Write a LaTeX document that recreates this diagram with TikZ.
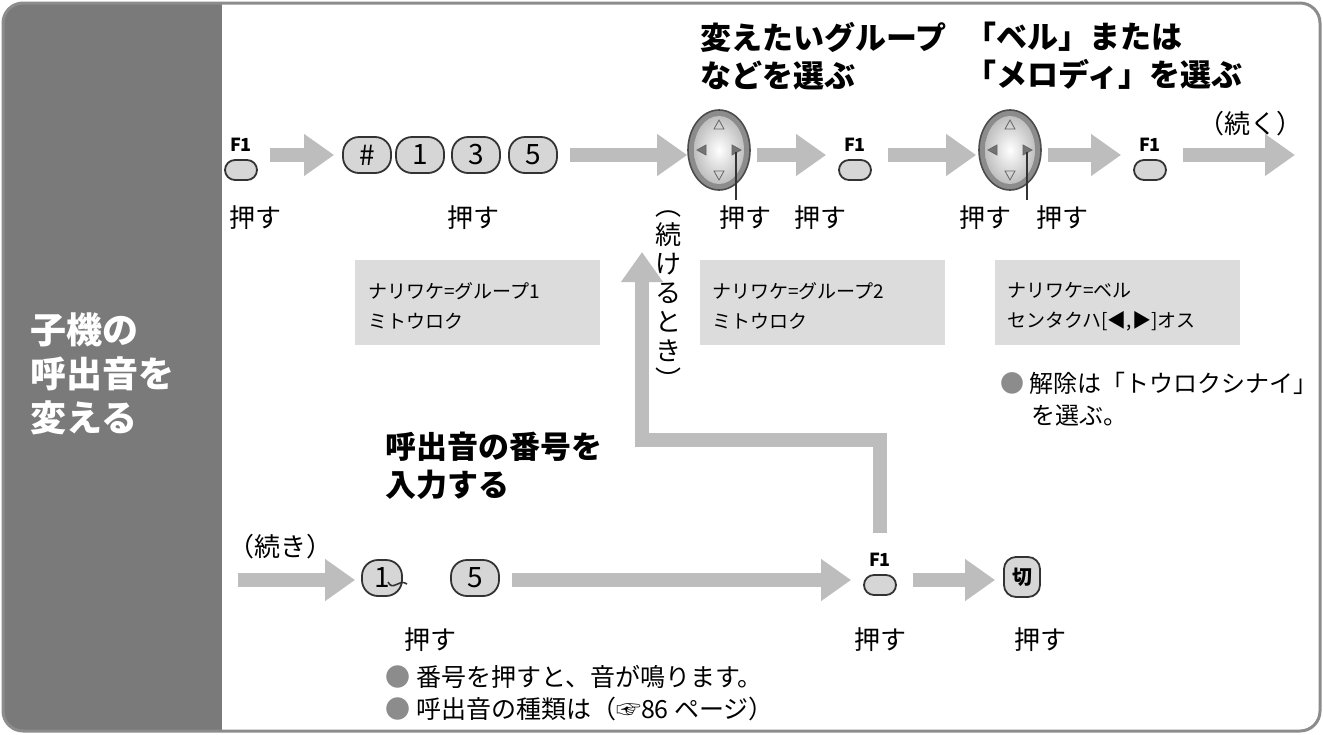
\documentclass[tikz,border=0pt]{standalone}
\usepackage{fontspec}
\setmainfont{Noto Sans CJK JP}
\setsansfont{Noto Sans CJK JP}
\usetikzlibrary{arrows.meta,shapes.geometric}
\definecolor{garr}{HTML}{BDBDBD}
\definecolor{panel}{HTML}{7A7A7A}
\definecolor{boxg}{HTML}{DCDCDC}
\definecolor{keyg}{HTML}{D6D6D6}
\begin{document}
\begin{tikzpicture}[x=0.5pt,y=-0.5pt,
  ga/.style={draw=garr,line width=7pt,-{Triangle[length=15pt,width=20pt]}},
  key/.style={draw=black!80,fill=keyg,line width=0.9pt,rounded corners=8pt,minimum width=24pt,minimum height=18pt,inner sep=0pt,font=\fontsize{14pt}{14pt}\selectfont},
  fkey/.style={draw=black!80,fill=keyg,line width=0.9pt,rounded corners=5pt,minimum width=16pt,minimum height=10pt,inner sep=0pt},
  flab/.style={font=\fontsize{9pt}{9pt}\selectfont\bfseries,inner sep=0pt},
  lab/.style={font=\fontsize{13pt}{13pt}\selectfont,inner sep=0pt},
  hd/.style={font=\fontsize{15.5pt}{19pt}\selectfont\bfseries,align=left,inner sep=0pt,anchor=north west},
  lcd/.style={font=\fontsize{9.5pt}{15pt}\selectfont,align=left,inner sep=0pt,anchor=north west},
  note/.style={font=\fontsize{12.5pt}{16pt}\selectfont,align=left,inner sep=0pt,anchor=north west}]
\useasboundingbox (0,0) rectangle (1323,734);
% frame
\begin{scope}
\clip[rounded corners=10pt] (3,3) rectangle (1320,731);
\fill[white] (3,3) rectangle (1320,731);
\fill[panel] (3,3) rectangle (222,731);
\end{scope}
\draw[black!45,line width=1.5pt,rounded corners=10pt] (3,3) rectangle (1320,731);
\node[anchor=north west,text=white,font=\fontsize{18pt}{22pt}\selectfont\bfseries,align=left,inner sep=0pt] (title) at (30,312) {子機の\\呼出音を\\変える};

% headings
\node[hd] (h1) at (700,22) {変えたいグループ\\などを選ぶ};
\node[hd] (h2) at (965,22) {「ベル」または\\「メロディ」を選ぶ};
\node[hd] (h3) at (385,432) {呼出音の番号を\\入力する};

\coordinate (row) at (0,155);
\coordinate (rowb) at (0,580);

% top row keys
\node[fkey] (f1a) at (241,170) {}; \node[flab] (f1al) at (241,145) {F1};
\node[key] (kh) at (367,155) {\#};
\node[key] (k1) at (420,155) {1};
\node[key] (k3) at (476,155) {3};
\node[key] (k5) at (533,155) {5};
\foreach \n/\x in {dp1/719,dp2/1010}{
  \node[ellipse,draw=black!70,fill=black!45,line width=0.8pt,minimum width=31pt,minimum height=40pt,inner sep=0pt] (\n) at (\x,150) {};
  \node[ellipse,shading=radial,inner color=white,outer color=black!25,minimum width=25pt,minimum height=34pt,inner sep=0pt] (\n i) at (\x,150) {};
  \draw[black!60,fill=black!55] (\x-22,150) -- (\x-13,145) -- (\x-13,155) -- cycle;
  \draw[black!60,fill=black!55] (\x+22,150) -- (\x+13,145) -- (\x+13,155) -- cycle;
  \draw[black!60] (\x,120) -- (\x-5,129) -- (\x+5,129) -- cycle;
  \draw[black!60] (\x,180) -- (\x-5,171) -- (\x+5,171) -- cycle;
  \draw[black!80,line width=0.6pt] (\x+17,152) -- (\x+17,200);
}
\node[fkey] (f1b) at (855,170) {}; \node[flab] (f1bl) at (855,145) {F1};
\node[fkey] (f1c) at (1150,170) {}; \node[flab] (f1cl) at (1150,145) {F1};
\node[font=\fontsize{13pt}{13pt}\selectfont,inner sep=0pt] (cont1) at (1250,124) {（続く）};
\coordinate (endtop) at (1295,155);

\draw[ga] ([xshift=6pt]f1a.east |- row) -- ([xshift=-4pt]kh.west |- row);
\draw[ga] ([xshift=6pt]k5.east |- row) -- (dp1.west |- row);
\draw[ga] ([xshift=3pt]dp1.east |- row) -- ([xshift=-6pt]f1b.west |- row);
\draw[ga] ([xshift=8pt]f1b.east |- row) -- ([xshift=-1pt]dp2.west |- row);
\draw[ga] ([xshift=3pt]dp2.east |- row) -- ([xshift=-6pt]f1c.west |- row);
\draw[ga] ([xshift=8pt]f1c.east |- row) -- (endtop);

% top labels
\node[lab] (p1) at (255,218) {押す};
\node[lab] (p2) at (473,218) {押す};
\node[lab] (p3) at (745,218) {押す};
\node[lab] (p4) at (820,218) {押す};
\node[lab] (p5) at (985,218) {押す};
\node[lab] (p6) at (1062,218) {押す};

% lcd boxes
\fill[boxg] (355,260) rectangle (600,345);
\node[lcd] (l1) at (368,282) {ナリワケ=グループ1\\ミトウロク};
\fill[boxg] (700,260) rectangle (945,345);
\node[lcd] (l2) at (712,282) {ナリワケ=グループ2\\ミトウロク};
\fill[boxg] (995,260) rectangle (1240,345);
\node[lcd] (l3) at (1007,282) {ナリワケ=ベル\\センタクハ[◀,▶]オス};
\node[note,font=\fontsize{12pt}{16pt}\selectfont] (n1) at (1000,372) {{\color{black!45}●} 解除は「トウロクシナイ」\\\hspace{1.3em}を選ぶ。};

% vertical text
\node[font=\fontsize{13pt}{14.5pt}\selectfont,align=center,inner sep=0pt] (vt) at (668,300) {︵\\続\\け\\る\\と\\き\\︶};

% bottom row
\node[font=\fontsize{13pt}{13pt}\selectfont,inner sep=0pt] (cont2) at (280,547) {（続き）};
\coordinate (startb) at (238,580);
\node[key,minimum width=20pt,rounded corners=8pt] (b1) at (382,578) {1\hspace{4pt}};
\draw[black!80,line width=0.8pt] (388,582) .. controls (393,592) and (399,578) .. (407,584);
\node[key] (b5) at (475,578) {5};
\node[fkey] (f1d) at (880,585) {}; \node[flab] (f1dl) at (880,560) {F1};
\node[key,minimum width=18pt,minimum height=20pt,rounded corners=6pt,font=\fontsize{10pt}{10pt}\selectfont\bfseries] (kk) at (1022,577) {切};
\draw[ga] (startb) -- ([xshift=-3pt]b1.west |- rowb);
\draw[ga] ([xshift=6pt]b5.east |- rowb) -- ([xshift=-6pt]f1d.west |- rowb);
\draw[ga] ([xshift=8pt]f1d.east |- rowb) -- ([xshift=-4pt]kk.west |- rowb);
% return arrow
\draw[ga] ([yshift=10pt]f1dl.north) |- (642,440) -- (642,252);

\node[lab] (p7) at (430,640) {押す};
\node[lab] (p8) at (880,640) {押す};
\node[lab] (p9) at (1040,640) {押す};
\node[note] (n2) at (385,665) {{\color{black!45}●} 番号を押すと、音が鳴ります。\\{\color{black!45}●} 呼出音の種類は（☞86 ページ）};
\end{tikzpicture}
\end{document}
